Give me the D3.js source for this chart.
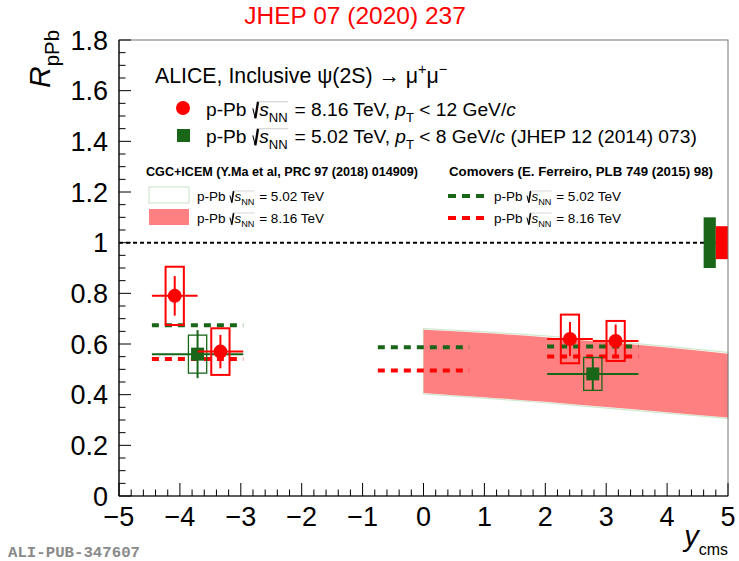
<!DOCTYPE html>
<html><head><meta charset="utf-8">
<script src="https://cdn.jsdelivr.net/npm/d3@7"></script>
<style>
body{margin:0;background:#fff}
svg{display:block}
text{font-family:"Liberation Sans",Arial,Helvetica,sans-serif}
</style>
</head><body>
<svg id="chart" width="739" height="561"></svg>
<script>
// psi(2S) nuclear modification factor vs rapidity, p-Pb at 8.16 and 5.02 TeV

// 8.16 TeV data: rapidity bins, R_pPb, statistical and systematic uncertainties
const binLo816 = [-4.46, -3.71, 2.03, 2.78];
const binHi816 = [-3.71, -2.96, 2.78, 3.53];
const rpPb816  = [0.79, 0.57, 0.62, 0.612];
const stat816  = [0.078, 0.066, 0.067, 0.065];
const syst816  = [0.115, 0.092, 0.096, 0.079];

// 5.02 TeV data (JHEP 12 (2014) 073)
const binLo502 = [-4.46, 2.03];
const binHi502 = [-2.96, 3.53];
const rpPb502  = [0.56, 0.482];
const stat502  = [0.095, 0.067];
const syst502  = [0.075, 0.065];

// global (correlated) uncertainties at unity: [5.02 TeV, 8.16 TeV]
const globalUnc = [0.10, 0.065];

// CGC+ICEM bands, sampled in y_cms
const cgcY       = [0, 1, 2, 3, 4, 5];
const cgcHi816   = [0.656, 0.643, 0.627, 0.607, 0.586, 0.562];
const cgcLo816   = [0.407, 0.390, 0.372, 0.351, 0.331, 0.310];
const cgcHi502   = [0.661, 0.648, 0.632, 0.612, 0.591, 0.567];
const cgcLo502   = [0.403, 0.386, 0.368, 0.347, 0.327, 0.306];

// Comover model: rapidity ranges and values
const comLo   = [-4.46, -0.75, 2.03];
const comHi   = [-2.96, 0.75, 3.53];
const com502  = [0.674, 0.587, 0.590];
const com816  = [0.541, 0.495, 0.551];

// axis ticks
const xTicks = [-5, -4, -3, -2, -1, 0, 1, 2, 3, 4, 5];
const xTickLabels = ["\u22125", "\u22124", "\u22123", "\u22122", "\u22121", "0", "1", "2", "3", "4", "5"];
const yTicks = [0, 0.2, 0.4, 0.6, 0.8, 1, 1.2, 1.4, 1.6, 1.8];
const yTickLabels = ["0", "0.2", "0.4", "0.6", "0.8", "1", "1.2", "1.4", "1.6", "1.8"];

const RED = "#ff0000", GREEN = "#196619", PINK = "#ff8080", LIGHTGREEN = "#cfe8cf";

const svg = d3.select("#chart");
const x = d3.scaleLinear().domain([-5, 5]).range([119, 728]);
const y = d3.scaleLinear().domain([0, 1.8]).range([496, 40]);

// ---- rich text helper (italic, sub/superscripts, square root) ----
function rich(g, x0, y0, parts, fs, color, weight) {
  let cx = x0;
  parts.forEach(p => {
    if (p.sqrt) {
      const sx = cx;
      const h = fs * 0.95;
      const x1 = sx + fs * 0.32;
      const start = x1 + fs * 0.06;
      const end = rich(g, start, y0, p.sqrt, fs, color, weight);
      g.append("path")
        .attr("d", `M${sx + fs*0.05},${y0 - h*0.42} L${sx + fs*0.18},${y0 + fs*0.12}`)
        .attr("stroke", color).attr("stroke-width", Math.max(1, fs*0.055)).attr("fill", "none");
      g.append("path")
        .attr("d", `M${sx + fs*0.18},${y0 + fs*0.12} L${x1},${y0 - h*0.78}`)
        .attr("stroke", color).attr("stroke-width", Math.max(1.2, fs*0.12)).attr("fill", "none");
      g.append("path")
        .attr("d", `M${x1},${y0 - h*0.78} L${end + fs*0.02},${y0 - h*0.78}`)
        .attr("stroke", "#bbb").attr("stroke-width", Math.max(0.6, fs*0.04)).attr("fill", "none");
      cx = end + fs * 0.08;
      return;
    }
    const small = p.sub || p.sup;
    const size = small ? fs * (p.scale || 0.68) : fs;
    const dy = p.sub ? fs * 0.3 : (p.sup ? -fs * 0.42 : 0);
    const t = g.append("text")
      .attr("x", cx).attr("y", y0 + dy)
      .attr("font-size", size)
      .attr("fill", color)
      .attr("font-style", p.i ? "italic" : "normal")
      .attr("font-weight", weight || "normal")
      .style("white-space", "pre")
      .text(p.t);
    cx += t.node().getComputedTextLength();
  });
  return cx;
}

// ---- CGC+ICEM bands ----
svg.append("path")
  .datum(cgcY)
  .attr("d", d3.area().x((d, i) => x(cgcY[i])).y0((d, i) => y(cgcLo502[i])).y1((d, i) => y(cgcHi502[i])).curve(d3.curveMonotoneX))
  .attr("fill", "#fff").attr("stroke", LIGHTGREEN).attr("stroke-width", 1.2);
svg.append("path")
  .datum(cgcY)
  .attr("d", d3.area().x((d, i) => x(cgcY[i])).y0((d, i) => y(cgcLo816[i])).y1((d, i) => y(cgcHi816[i])).curve(d3.curveMonotoneX))
  .attr("fill", PINK);

// ---- comover model lines ----
const comG = svg.append("g");
comLo.forEach((lo, i) => {
  comG.append("line").attr("x1", x(lo)).attr("x2", x(comHi[i]))
    .attr("y1", y(com502[i])).attr("y2", y(com502[i]))
    .attr("stroke", GREEN).attr("stroke-width", 4).attr("stroke-dasharray", "7,6");
  comG.append("line").attr("x1", x(lo)).attr("x2", x(comHi[i]))
    .attr("y1", y(com816[i])).attr("y2", y(com816[i]))
    .attr("stroke", RED).attr("stroke-width", 4).attr("stroke-dasharray", "7,6");
});

// ---- unity line and global uncertainties ----
svg.append("line").attr("x1", x(-5)).attr("x2", x(5)).attr("y1", y(1)).attr("y2", y(1))
  .attr("stroke", "#000").attr("stroke-width", 2).attr("stroke-dasharray", "4,3");
svg.append("rect").attr("x", x(4.6)).attr("width", x(4.8) - x(4.6))
  .attr("y", y(1 + globalUnc[0])).attr("height", y(1 - globalUnc[0]) - y(1 + globalUnc[0]))
  .attr("fill", GREEN);
svg.append("rect").attr("x", x(4.8)).attr("width", x(5.0) - x(4.8))
  .attr("y", y(1 + globalUnc[1])).attr("height", y(1 - globalUnc[1]) - y(1 + globalUnc[1]))
  .attr("fill", RED);

// ---- data points ----
function drawSeries(lo, hi, val, st, sy, color, boxW, marker) {
  const g = svg.append("g");
  val.forEach((v, i) => {
    const c = (lo[i] + hi[i]) / 2;
    g.append("rect")
      .attr("x", x(c - 0.15)).attr("width", x(c + 0.15) - x(c - 0.15))
      .attr("y", y(v + sy[i])).attr("height", y(v - sy[i]) - y(v + sy[i]))
      .attr("fill", "none").attr("stroke", color).attr("stroke-width", boxW);
    g.append("line").attr("x1", x(lo[i])).attr("x2", x(hi[i])).attr("y1", y(v)).attr("y2", y(v))
      .attr("stroke", color).attr("stroke-width", 2);
    g.append("line").attr("x1", x(c)).attr("x2", x(c)).attr("y1", y(v + st[i])).attr("y2", y(v - st[i]))
      .attr("stroke", color).attr("stroke-width", 2);
    if (marker === "circle") {
      g.append("circle").attr("cx", x(c)).attr("cy", y(v)).attr("r", 7).attr("fill", color);
    } else {
      g.append("rect").attr("x", x(c) - 6.5).attr("y", y(v) - 6.5).attr("width", 13).attr("height", 13).attr("fill", color);
    }
  });
}
drawSeries(binLo502, binHi502, rpPb502, stat502, syst502, GREEN, 1.3, "square");
drawSeries(binLo816, binHi816, rpPb816, stat816, syst816, RED, 2, "circle");

// ---- frame and axes ----
svg.append("rect").attr("x", x(-5)).attr("y", y(1.8)).attr("width", x(5) - x(-5)).attr("height", y(0) - y(1.8))
  .attr("fill", "none").attr("stroke", "#777").attr("stroke-width", 1);
const ax = svg.append("g");
ax.append("line").attr("x1", x(-5)).attr("x2", x(5)).attr("y1", y(0)).attr("y2", y(0)).attr("stroke", "#000").attr("stroke-width", 1.2);
ax.append("line").attr("x1", x(-5)).attr("x2", x(-5)).attr("y1", y(0)).attr("y2", y(1.8)).attr("stroke", "#000").attr("stroke-width", 1.2);

d3.range(-5, 5.001, 0.2).forEach(v => {
  const major = Math.abs(v - Math.round(v)) < 1e-6;
  ax.append("line").attr("x1", x(v)).attr("x2", x(v)).attr("y1", y(0)).attr("y2", y(0) - (major ? 13 : 6.5))
    .attr("stroke", "#000").attr("stroke-width", 1);
});
d3.range(0, 1.8001, 0.05).forEach(v => {
  const major = Math.abs(v * 5 - Math.round(v * 5)) < 1e-6;
  ax.append("line").attr("x1", x(-5)).attr("x2", x(-5) + (major ? 12 : 6.5)).attr("y1", y(v)).attr("y2", y(v))
    .attr("stroke", "#000").attr("stroke-width", 1);
});
xTicks.forEach((v, i) => {
  ax.append("text").attr("x", x(v)).attr("y", 526).attr("text-anchor", "middle")
    .attr("font-size", 27).attr("fill", "#000").text(xTickLabels[i]);
});
yTicks.forEach((v, i) => {
  ax.append("text").attr("x", 108).attr("y", y(v) + 9.5).attr("text-anchor", "end")
    .attr("font-size", 27).attr("fill", "#000").text(yTickLabels[i]);
});

// axis titles
const yt = svg.append("g");
const ytw = rich(yt, 0, 0, [{t: "R", i: true}, {t: "pPb", sub: true}], 30, "#000");
yt.attr("transform", `translate(50,${30 + ytw}) rotate(-90)`);
const xt = svg.append("g");
const xtw = rich(xt, 0, 0, [{t: "y", i: true}, {t: "cms", sub: true, scale: 0.55}], 29, "#000");
xt.attr("transform", `translate(${728 - xtw},546)`);

// title and tag
svg.append("text").attr("x", 355).attr("y", 24).attr("text-anchor", "middle")
  .attr("font-size", 24.5).attr("fill", RED).text("JHEP 07 (2020) 237");
svg.append("text").attr("x", 8).attr("y", 557).attr("font-size", 15.5).attr("font-weight", "bold")
  .attr("fill", "#8a8a8a").style("font-family", "'Liberation Mono','DejaVu Sans Mono',monospace")
  .attr("textLength", 132).attr("lengthAdjust", "spacingAndGlyphs")
  .text("ALI-PUB-347607");

// ---- legend ----
const lg = svg.append("g");
rich(lg, 155, 83, [{t: "ALICE, Inclusive \u03c8(2S) \u2192 \u03bc"}, {t: "+", sup: true}, {t: "\u03bc"}, {t: "\u2212", sup: true}], 21.3, "#000");
lg.append("circle").attr("cx", 183).attr("cy", 108).attr("r", 7).attr("fill", RED);
rich(lg, 206, 116, [{t: "p-Pb "}, {sqrt: [{t: "s", i: true}, {t: "NN", sub: true}]}, {t: " = 8.16 TeV, "}, {t: "p", i: true}, {t: "T", sub: true}, {t: " < 12 GeV/"}, {t: "c", i: true}], 19.2, "#000");
lg.append("rect").attr("x", 177).attr("y", 129).attr("width", 13).attr("height", 13).attr("fill", GREEN);
rich(lg, 206, 143, [{t: "p-Pb "}, {sqrt: [{t: "s", i: true}, {t: "NN", sub: true}]}, {t: " = 5.02 TeV, "}, {t: "p", i: true}, {t: "T", sub: true}, {t: " < 8 GeV/"}, {t: "c", i: true}, {t: " (JHEP 12 (2014) 073)"}], 19.2, "#000");

lg.append("text").attr("x", 146).attr("y", 176).attr("font-size", 12.5).attr("font-weight", "bold")
  .attr("textLength", 272).attr("lengthAdjust", "spacingAndGlyphs")
  .text("CGC+ICEM (Y.Ma et al, PRC 97 (2018) 014909)");
lg.append("text").attr("x", 449).attr("y", 176).attr("font-size", 12.5).attr("font-weight", "bold")
  .attr("textLength", 264).attr("lengthAdjust", "spacingAndGlyphs")
  .text("Comovers (E. Ferreiro, PLB 749 (2015) 98)");

lg.append("rect").attr("x", 149).attr("y", 187).attr("width", 40).attr("height", 16)
  .attr("fill", "#fff").attr("stroke", LIGHTGREEN).attr("stroke-width", 1.2);
lg.append("rect").attr("x", 149).attr("y", 209).attr("width", 40).attr("height", 16).attr("fill", PINK);
rich(lg, 197, 201, [{t: "p-Pb "}, {sqrt: [{t: "s", i: true}, {t: "NN", sub: true}]}, {t: " = 5.02 TeV"}], 13.5, "#000");
rich(lg, 197, 223, [{t: "p-Pb "}, {sqrt: [{t: "s", i: true}, {t: "NN", sub: true}]}, {t: " = 8.16 TeV"}], 13.5, "#000");

lg.append("line").attr("x1", 448).attr("x2", 486).attr("y1", 196).attr("y2", 196)
  .attr("stroke", GREEN).attr("stroke-width", 4).attr("stroke-dasharray", "8,6");
lg.append("line").attr("x1", 448).attr("x2", 486).attr("y1", 218).attr("y2", 218)
  .attr("stroke", RED).attr("stroke-width", 4).attr("stroke-dasharray", "8,6");
rich(lg, 494, 201, [{t: "p-Pb "}, {sqrt: [{t: "s", i: true}, {t: "NN", sub: true}]}, {t: " = 5.02 TeV"}], 13.5, "#000");
rich(lg, 494, 223, [{t: "p-Pb "}, {sqrt: [{t: "s", i: true}, {t: "NN", sub: true}]}, {t: " = 8.16 TeV"}], 13.5, "#000");
</script>
</body></html>
